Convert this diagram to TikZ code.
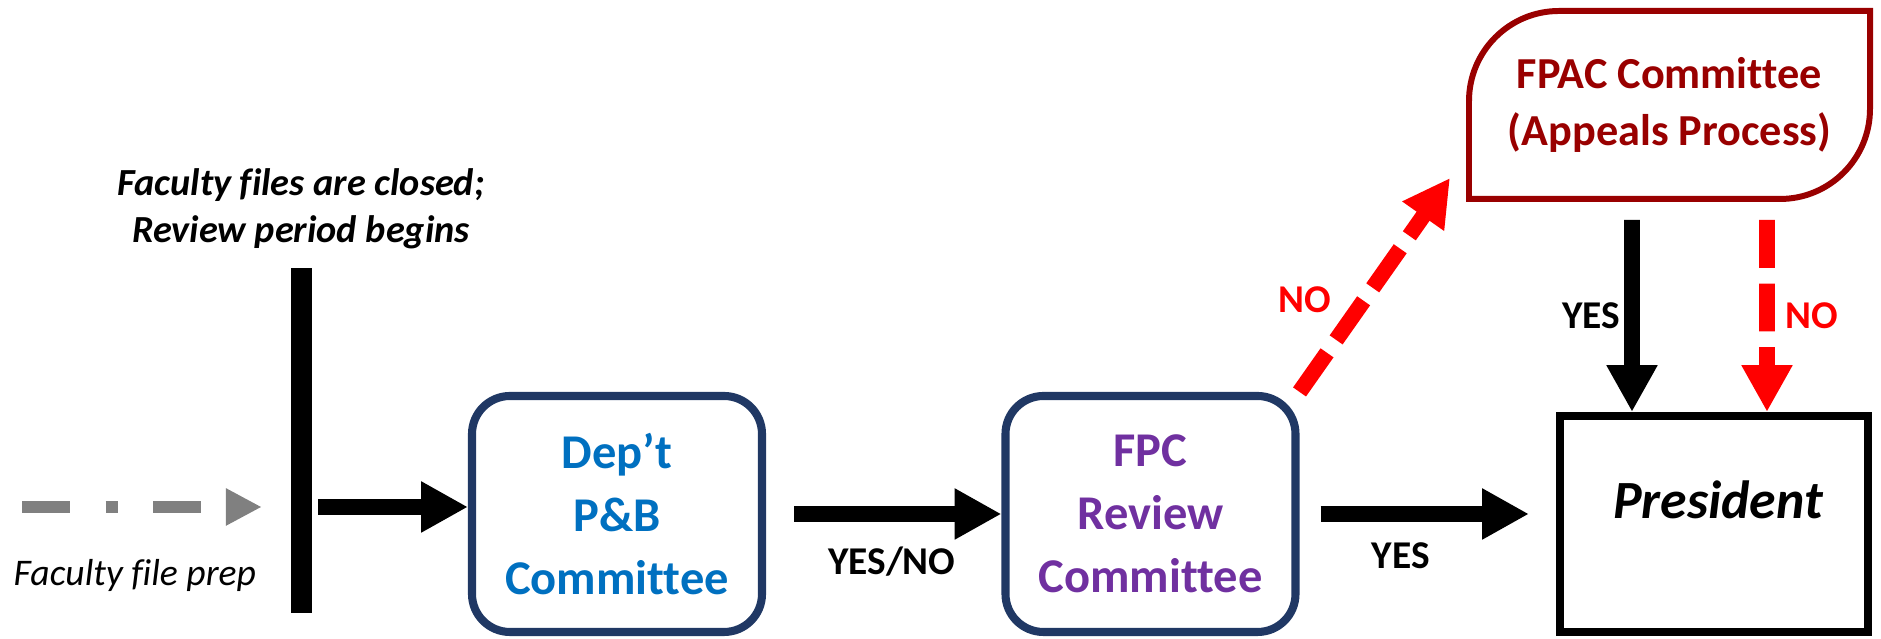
\documentclass[tikz,border=0pt]{standalone}
\usepackage{fontspec}
\setmainfont{Carlito}[Ligatures=NoCommon]
\usetikzlibrary{arrows.meta,calc,positioning}
\definecolor{navy}{HTML}{203864}
\definecolor{deptblue}{HTML}{0070C0}
\definecolor{fpcpurple}{HTML}{7030A0}
\definecolor{darkred}{HTML}{990000}
\definecolor{brightred}{HTML}{FF0000}
\definecolor{prepgray}{HTML}{808080}
\begin{document}
\begin{tikzpicture}
	    \tikzset{
	      box/.style={draw=navy, line width=2.3pt, rounded corners=0.38cm, minimum width=2.90cm, minimum height=2.36cm, align=center, font=\fontsize{13.8}{17.9}\selectfont\bfseries},
	      flow/.style={line width=4.5pt, -{Triangle[length=13.3pt,width=13.6pt]}},
	      noflow/.style={flow, brightred, dash pattern=on 13.6pt off 4.5pt},
	      lbl/.style={font=\fontsize{11.2}{13}\selectfont\bfseries}
	    }
	    \useasboundingbox (0,0) rectangle (18.81,6.39);
	    % boxes
	    \node [fill=black, minimum width=0.21cm, minimum height=3.45cm, inner sep=0pt] (bar) at (3.01,1.985) {};
	    \node [box, text=deptblue] (dept) at (6.17,1.25) {Dep’t\\P\&B\\Committee};
	    \node [box, text=fpcpurple] (fpc) at (11.505,1.25) {FPC\\Review\\Committee};
	    \node [draw, line width=2.3pt, minimum width=3.08cm, minimum height=2.16cm] (pres) at (17.14,1.15) {};
	    \node [font=\fontsize{15.3}{18}\selectfont\bfseries\itshape] (prestitle) at ($(pres.center)+(0.04,0.24)$) {President};
	    \node [minimum width=4.01cm, minimum height=1.88cm, inner sep=0pt, outer sep=0pt, align=center, text=darkred, font=\fontsize{12.6}{16.4}\selectfont\bfseries] (fpac) at (16.695,5.34) {FPAC Committee\\(Appeals Process)};
	    \draw [darkred, line width=1.7pt] (fpac.north east) -- ([yshift=0.9cm]fpac.south east) arc [start angle=0, end angle=-90, radius=0.9cm] -- (fpac.south west) -- ([yshift=-0.9cm]fpac.north west) arc [start angle=180, end angle=90, radius=0.9cm] -- cycle;
	    \node [above=0.18cm of bar, inner sep=0pt, align=center, font=\fontsize{10.9}{13.4}\selectfont\bfseries\itshape] (closed) {Faculty files are closed;\\Review period begins};
	    % connectors
	    \coordinate (prepstart) at (0.22,1.32);
	    \draw [prepgray, line width=3.4pt, dash pattern=on 13.6pt off 10.2pt on 3.4pt off 10.2pt, -{Triangle[length=10.2pt,width=9.9pt]}] (prepstart) -- ([xshift=-0.28cm]bar.west |- prepstart) node [midway, xshift=-0.07cm, yshift=-0.68cm, black, font=\fontsize{10.7}{12}\selectfont\itshape] {Faculty file prep};
	    \draw [flow] ([xshift=0.06cm]bar.east |- prepstart) -- (dept.west |- prepstart);
	    \draw [flow] ([xshift=0.28cm]dept.east) -- (fpc.west) node [lbl, midway, xshift=-0.06cm, yshift=-0.48cm] {YES/NO};
	    \draw [flow] ([xshift=0.21cm]fpc.east) -- ([xshift=-0.27cm]pres.west |- fpc.east) node [lbl, midway, xshift=-0.24cm, yshift=-0.42cm] {YES};
	    \draw [noflow] (fpc.north east) -- ($(fpac.south west)+(-0.19,0.21)$) node [lbl, midway, xshift=-0.70cm, yshift=-0.15cm] {NO};
	    \draw [flow] ($(pres.north |- fpac.south)+(-0.82,-0.21)$) -- ([xshift=-0.82cm]pres.north) node [lbl, midway, xshift=-0.41cm] {YES};
	    \draw [noflow] ($(pres.north |- fpac.south)+(0.53,-0.21)$) -- ([xshift=0.53cm]pres.north) node [lbl, midway, xshift=0.45cm] {NO};
	\end{tikzpicture}
\end{document}
